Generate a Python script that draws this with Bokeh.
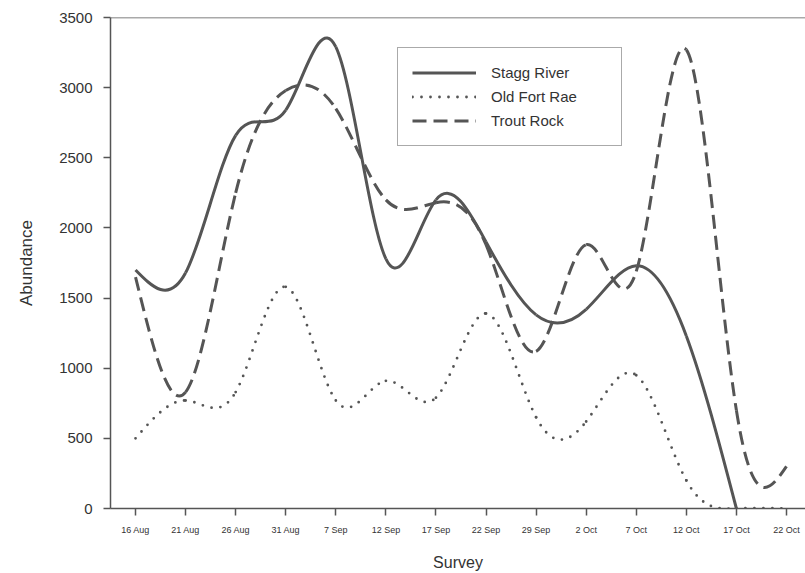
import numpy as np
from bokeh.plotting import figure
from bokeh.models import Span, Legend, LegendItem, FixedTicker, ColumnDataSource
from bokeh.embed import file_html
from bokeh.resources import INLINE

surveys = ["16 Aug", "21 Aug", "26 Aug", "31 Aug", "7 Sep", "12 Sep", "17 Sep",
           "22 Sep", "29 Sep", "2 Oct", "7 Oct", "12 Oct", "17 Oct", "22 Oct"]
stagg_river = [1700, 1680, 2660, 2840, 3290, 1780, 2200, 1900, 1380, 1420, 1730, 1230, 0]
old_fort_rae = [500, 770, 830, 1580, 770, 910, 790, 1390, 650, 620, 950, 200, 0, 0]
trout_rock = [1650, 830, 2250, 2980, 2850, 2200, 2180, 1880, 1120, 1880, 1690, 3270, 700, 300]

LINE = "#555555"
TEXT = "#333333"
FONT = "Liberation Sans"


def spline_source(vals):
    """Natural cubic spline through the data, expressed as Bezier segments."""
    y = np.asarray(vals, dtype=float)
    n = len(y)
    x = np.arange(n, dtype=float)
    A = np.zeros((n, n))
    b = np.zeros(n)
    A[0, 0] = 1
    A[-1, -1] = 1
    for i in range(1, n - 1):
        A[i, i - 1] = 1
        A[i, i] = 4
        A[i, i + 1] = 1
        b[i] = 6 * (y[i + 1] - 2 * y[i] + y[i - 1])
    M = np.linalg.solve(A, b)
    m = np.zeros(n)
    for i in range(n - 1):
        m[i] = (y[i + 1] - y[i]) - (2 * M[i] + M[i + 1]) / 6
    m[-1] = (y[-1] - y[-2]) + (M[-2] + 2 * M[-1]) / 6
    return ColumnDataSource(dict(
        x0=x[:-1], y0=y[:-1], x1=x[1:], y1=y[1:],
        cx0=x[:-1] + 1 / 3, cy0=y[:-1] + m[:-1] / 3,
        cx1=x[1:] - 1 / 3, cy1=y[1:] - m[1:] / 3,
    ))


p = figure(width=805, height=573, output_backend="svg", toolbar_location=None,
           x_range=(-0.5, 13.38), y_range=(0, 3500),
           min_border_left=110, min_border_right=0, min_border_top=17, min_border_bottom=64)
p.outline_line_color = None
p.grid.visible = False
p.background_fill_color = "white"

cols = dict(x0="x0", y0="y0", x1="x1", y1="y1", cx0="cx0", cy0="cy0", cx1="cx1", cy1="cy1")
r_stagg = p.bezier(**cols, source=spline_source(stagg_river), line_color=LINE, line_width=3)
r_ofr = p.bezier(**cols, source=spline_source(old_fort_rae), line_color=LINE, line_width=2.8,
                 line_dash="0 9", line_cap="round")
r_trout = p.bezier(**cols, source=spline_source(trout_rock), line_color=LINE, line_width=3,
                   line_dash="14 7")

p.add_layout(Span(location=3500, dimension="width", line_color=LINE, line_width=1.5))

p.xaxis.ticker = FixedTicker(ticks=list(range(len(surveys))))
p.xaxis.major_label_overrides = {i: s for i, s in enumerate(surveys)}
p.yaxis.ticker = FixedTicker(ticks=[0, 500, 1000, 1500, 2000, 2500, 3000, 3500])
for ax in (p.xaxis, p.yaxis):
    ax.axis_line_color = LINE
    ax.axis_line_width = 1.5
    ax.major_tick_line_color = LINE
    ax.major_tick_line_width = 1.5
    ax.minor_tick_line_color = None
    ax.major_tick_in = 0
    ax.major_tick_out = 7
    ax.major_label_text_color = TEXT
    ax.major_label_text_font = FONT
    ax.axis_label_text_color = TEXT
    ax.axis_label_text_font = FONT
    ax.axis_label_text_font_style = "normal"
p.xaxis.axis_label = "Survey"
p.yaxis.axis_label = "Abundance"
p.xaxis.major_label_text_font_size = "9px"
p.yaxis.major_label_text_font_size = "15px"
p.xaxis.axis_label_text_font_size = "16px"
p.yaxis.axis_label_text_font_size = "17px"
p.xaxis.major_label_standoff = 9
p.yaxis.major_label_standoff = 11
p.xaxis.axis_label_standoff = 16
p.yaxis.axis_label_standoff = 20

legend = Legend(items=[LegendItem(label="Stagg River", renderers=[r_stagg]),
                       LegendItem(label="Old Fort Rae", renderers=[r_ofr]),
                       LegendItem(label="Trout Rock", renderers=[r_trout])],
                location=(287, 362), padding=14, margin=0, spacing=3,
                glyph_width=64, glyph_height=21, label_height=21, label_width=116,
                label_standoff=15, label_text_font=FONT, label_text_font_size="15px",
                label_text_color=TEXT, border_line_color=LINE, border_line_width=1.5,
                background_fill_color="white", background_fill_alpha=1)
p.add_layout(legend, "center")

open("out.html", "w").write(file_html(p, INLINE))
